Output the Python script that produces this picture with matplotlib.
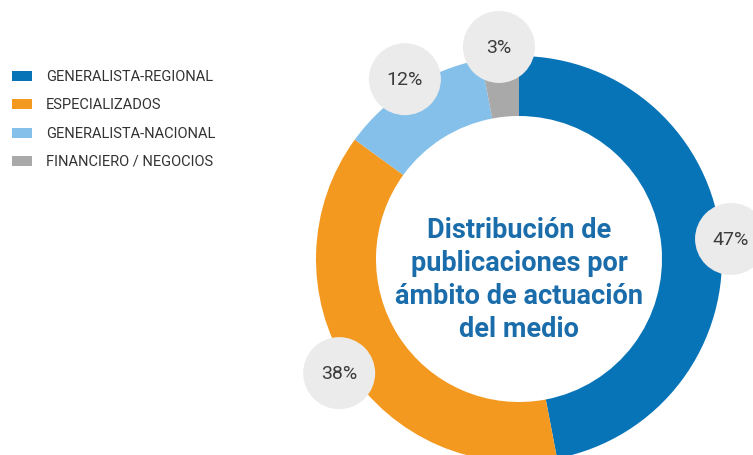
import numpy as np
import matplotlib
matplotlib.use("Agg")
import matplotlib.pyplot as plt
from matplotlib.patches import Circle, Rectangle

categories = ["GENERALISTA-REGIONAL", "ESPECIALIZADOS", "GENERALISTA-NACIONAL", "FINANCIERO / NEGOCIOS"]
values = [47, 38, 12, 3]
labels = ["47%", "38%", "12%", "3%"]
colors = ["#0874b8", "#f4991f", "#84c0ea", "#a9a9a9"]
title = "Distribución de\npublicaciones por\námbito de actuación\ndel medio"

W, H = 753, 456
fig = plt.figure(figsize=(W / 100, H / 100), dpi=100)
ax = fig.add_axes([0, 0, 1, 1])
cx, cy, R = 519, H - 260, 203

wedges, _ = ax.pie(values, colors=colors, startangle=90, counterclock=False,
                   center=(cx, cy), radius=R,
                   wedgeprops=dict(width=60, linewidth=0))

for w, lab in zip(wedges, labels):
    mid = np.deg2rad((w.theta1 + w.theta2) / 2)
    bx = cx + 213 * np.cos(mid)
    by = cy + 213 * np.sin(mid)
    ax.add_patch(Circle((bx, by), 36, facecolor="#ebebeb", edgecolor="none", zorder=5))
    ax.text(bx, by, lab, ha="center", va="center", fontsize=14, color="#3c3c3c",
            family="Roboto", fontweight="normal", zorder=6)

ax.text(cx, cy - 20, title, ha="center", va="center", fontsize=19.5, color="#1a6daa",
        fontweight="bold", family="Roboto", linespacing=1.3)

# legend
for i, (cat, col) in enumerate(zip(categories, colors)):
    y = H - (77 + 28.3 * i)
    ax.add_patch(Rectangle((12, y - 5), 20, 10, facecolor=col, edgecolor="none"))
    ax.text(46, y, cat, ha="left", va="center", fontsize=10.5, color="#333333",
            family="Roboto")

ax.set_xlim(0, W)
ax.set_ylim(0, H)
ax.set_aspect("equal")
ax.axis("off")
fig.savefig("out.png", dpi=100)
